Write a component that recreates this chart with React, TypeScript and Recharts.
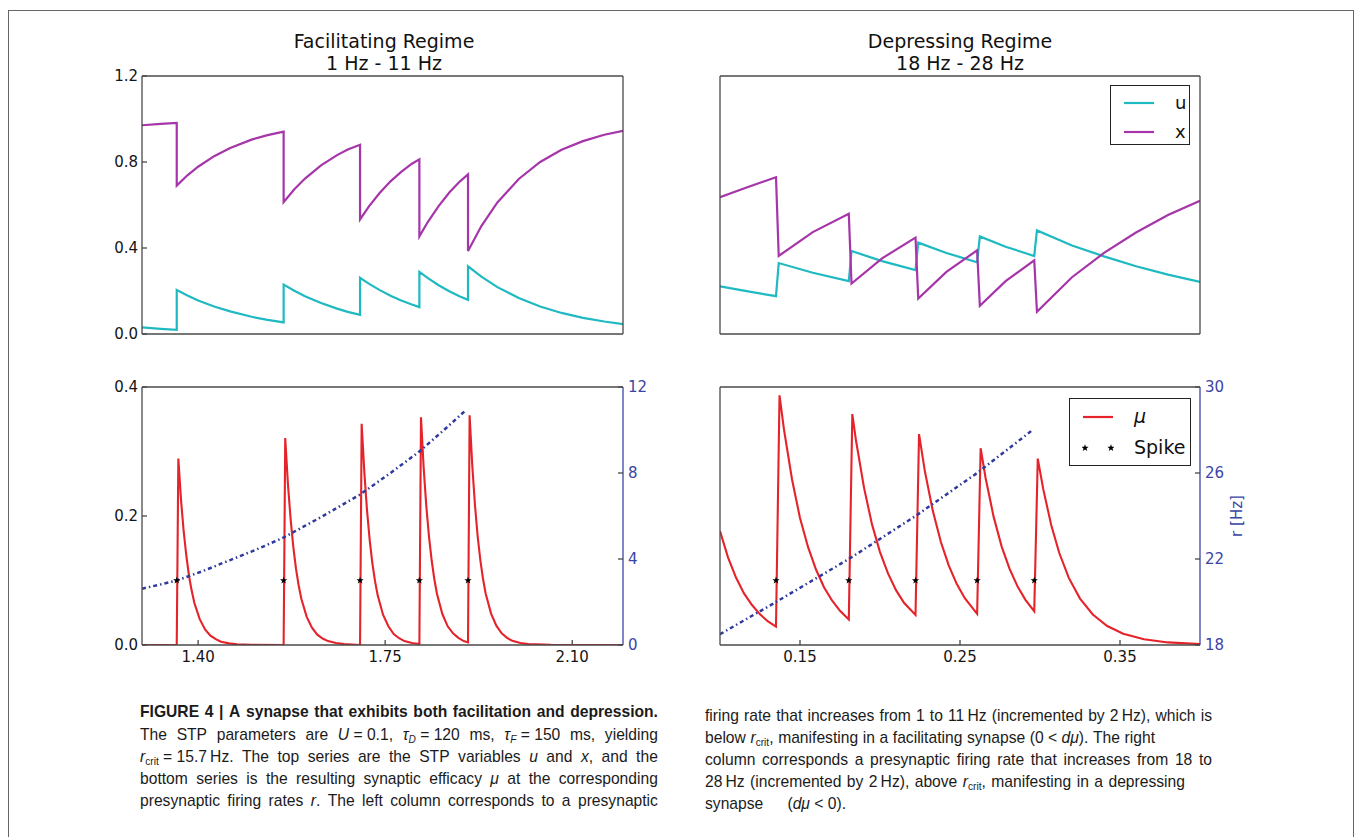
import React from 'react';
import { ComposedChart, Line, Scatter, XAxis, YAxis, Legend } from 'recharts';

type Pt = [number, number];

// ---------- Left column: facilitating regime (time in s) ----------
const facDomain: Pt = [1.295, 2.195];
const facTimeTicks = [1.4, 1.75, 2.1];
const facSpikeTimes = [1.36, 1.56, 1.703, 1.814, 1.905];
const facRateTicks = [0, 4, 8, 12];

const facX: Pt[] = [
  [1.295, 0.971], [1.33, 0.977], [1.36, 0.982], [1.36, 0.69], [1.38, 0.738], [1.4, 0.778], [1.43, 0.827],
  [1.46, 0.865], [1.5, 0.904], [1.53, 0.925], [1.56, 0.941], [1.56, 0.613], [1.58, 0.673], [1.6, 0.723],
  [1.63, 0.784], [1.66, 0.832], [1.68, 0.858], [1.703, 0.88], [1.703, 0.533], [1.72, 0.595], [1.74, 0.657],
  [1.76, 0.71], [1.78, 0.754], [1.8, 0.792], [1.814, 0.812], [1.814, 0.454], [1.83, 0.522], [1.85, 0.595],
  [1.87, 0.658], [1.89, 0.71], [1.905, 0.742], [1.905, 0.386], [1.93, 0.502], [1.96, 0.612], [2.0, 0.721],
  [2.04, 0.8], [2.08, 0.857], [2.12, 0.897], [2.16, 0.927], [2.195, 0.945],
];

const facU: Pt[] = [
  [1.295, 0.031], [1.33, 0.024], [1.36, 0.019], [1.36, 0.204], [1.38, 0.179], [1.4, 0.156], [1.43, 0.128],
  [1.46, 0.105], [1.5, 0.08], [1.53, 0.066], [1.56, 0.054], [1.56, 0.23], [1.58, 0.201], [1.6, 0.176],
  [1.63, 0.144], [1.66, 0.118], [1.68, 0.103], [1.703, 0.089], [1.703, 0.261], [1.72, 0.233], [1.74, 0.204],
  [1.76, 0.178], [1.78, 0.156], [1.8, 0.137], [1.814, 0.125], [1.814, 0.289], [1.83, 0.26], [1.85, 0.227],
  [1.87, 0.199], [1.89, 0.174], [1.905, 0.159], [1.905, 0.315], [1.93, 0.267], [1.96, 0.218], [2.0, 0.167],
  [2.04, 0.128], [2.08, 0.098], [2.12, 0.075], [2.16, 0.058], [2.195, 0.046],
];

const facMu: Pt[] = [
  [1.295, 0], [1.36, 0], [1.363, 0.289], [1.368, 0.225], [1.373, 0.176], [1.378, 0.138], [1.383, 0.107],
  [1.388, 0.084], [1.393, 0.065], [1.403, 0.04], [1.413, 0.024], [1.423, 0.0145], [1.433, 0.009],
  [1.443, 0.005], [1.458, 0.0025], [1.473, 0.001], [1.5, 0.0002], [1.56, 0],
  [1.563, 0.321], [1.568, 0.25], [1.573, 0.196], [1.578, 0.153], [1.583, 0.119], [1.588, 0.093],
  [1.593, 0.072], [1.603, 0.044], [1.613, 0.027], [1.623, 0.016], [1.633, 0.01], [1.643, 0.006],
  [1.658, 0.003], [1.673, 0.0013], [1.703, 0],
  [1.706, 0.343], [1.711, 0.268], [1.716, 0.209], [1.721, 0.163], [1.726, 0.127], [1.731, 0.099],
  [1.736, 0.077], [1.746, 0.047], [1.756, 0.029], [1.766, 0.017], [1.776, 0.0105], [1.786, 0.006],
  [1.8, 0.003], [1.814, 0.0015],
  [1.817, 0.353], [1.822, 0.275], [1.827, 0.215], [1.832, 0.168], [1.837, 0.131], [1.842, 0.102],
  [1.847, 0.079], [1.857, 0.048], [1.867, 0.029], [1.877, 0.018], [1.887, 0.011], [1.897, 0.006], [1.905, 0.004],
  [1.908, 0.356], [1.913, 0.278], [1.918, 0.217], [1.923, 0.169], [1.928, 0.132], [1.933, 0.103],
  [1.938, 0.08], [1.948, 0.049], [1.958, 0.03], [1.968, 0.018], [1.978, 0.011], [1.988, 0.0064],
  [2.003, 0.003], [2.018, 0.0014], [2.06, 0.0002], [2.195, 0],
];

const facRate: Pt[] = [
  [1.295, 2.62], [1.33, 2.82], [1.36, 3.0], [1.41, 3.45], [1.46, 3.95], [1.51, 4.45], [1.56, 5.0],
  [1.63, 5.95], [1.703, 7.0], [1.76, 8.0], [1.814, 9.0], [1.86, 10.0], [1.9, 10.9],
];

// ---------- Right column: depressing regime ----------
const depDomain: Pt = [0.1, 0.4];
const depTimeTicks = [0.15, 0.25, 0.35];
const depSpikeTimes = [0.135, 0.1805, 0.2222, 0.2607, 0.2964];
const depRateTicks = [18, 22, 26, 30];

const depX: Pt[] = [
  [0.1, 0.636], [0.1175, 0.684], [0.135, 0.729], [0.1367, 0.363], [0.158, 0.474], [0.1805, 0.559],
  [0.1822, 0.235], [0.2013, 0.352], [0.2222, 0.448], [0.2239, 0.165], [0.2415, 0.289], [0.2607, 0.389],
  [0.2624, 0.131], [0.2785, 0.246], [0.2964, 0.343], [0.2981, 0.103], [0.32, 0.264], [0.34, 0.377],
  [0.36, 0.472], [0.38, 0.553], [0.4, 0.62],
];

const depU: Pt[] = [
  [0.1, 0.222], [0.1175, 0.198], [0.135, 0.176], [0.1367, 0.33], [0.158, 0.285], [0.1805, 0.246],
  [0.1822, 0.386], [0.2013, 0.339], [0.2222, 0.297], [0.2239, 0.425], [0.2415, 0.377], [0.2607, 0.334],
  [0.2624, 0.454], [0.2785, 0.406], [0.2964, 0.363], [0.2981, 0.482], [0.32, 0.412], [0.34, 0.361],
  [0.36, 0.315], [0.38, 0.276], [0.4, 0.242],
];

const depMu: Pt[] = [
  [0.1, 0.1765], [0.105, 0.136], [0.11, 0.1045], [0.115, 0.08], [0.12, 0.062], [0.125, 0.0475], [0.13, 0.0365], [0.135, 0.0285],
  [0.1372, 0.387], [0.14, 0.334], [0.145, 0.257], [0.15, 0.197], [0.155, 0.152], [0.16, 0.117], [0.165, 0.0895], [0.17, 0.069], [0.175, 0.053], [0.1805, 0.0396],
  [0.1827, 0.358], [0.185, 0.317], [0.19, 0.244], [0.195, 0.187], [0.2, 0.144], [0.205, 0.111], [0.21, 0.085], [0.215, 0.0654], [0.2222, 0.0465],
  [0.2244, 0.327], [0.228, 0.27], [0.233, 0.208], [0.238, 0.16], [0.243, 0.123], [0.248, 0.0944], [0.253, 0.0726], [0.2607, 0.0484],
  [0.2629, 0.305], [0.266, 0.259], [0.271, 0.199], [0.276, 0.153], [0.281, 0.118], [0.286, 0.0905], [0.291, 0.0696], [0.2964, 0.0523],
  [0.2986, 0.289], [0.302, 0.242], [0.307, 0.186], [0.312, 0.143], [0.318, 0.104], [0.325, 0.072], [0.333, 0.0473],
  [0.342, 0.0294], [0.352, 0.0174], [0.365, 0.0088], [0.38, 0.004], [0.4, 0.0014],
];

const depRate: Pt[] = [
  [0.1, 18.5], [0.135, 20.0], [0.1805, 22.0], [0.2222, 24.0], [0.2607, 26.0], [0.2945, 27.95],
];

// ---------- shared ----------
const stpDomain: Pt = [0, 1.2];
const stpTicks = [0, 0.4, 0.8, 1.2];
const muDomain: Pt = [0, 0.4];
const muTicks = [0, 0.2, 0.4];
const spikeLevel = 0.1;

const toPts = (a: Pt[]) => a.map(([t, v]) => ({ t, v }));
const spikesPts = (times: number[]) => times.map((t) => ({ t, v: spikeLevel }));

const FONT = '"DejaVu Sans", Verdana, sans-serif';
const AX = '#4a4a4a';
const BLUE = '#3b45a6';
const CYAN = '#1fb9c1';
const MAGENTA = '#a535a9';
const RED = '#e5232a';
const RATE_BLUE = '#2f3a9c';

const tickFont = { fontSize: 15, fill: '#151515', fontFamily: FONT };
const blueTickFont = { fontSize: 15, fill: BLUE, fontFamily: FONT };
const axLine = { stroke: AX, strokeWidth: 1.3 };
const blueLine = { stroke: BLUE, strokeWidth: 1.3 };

function StarShape(props: any) {
  const { cx, cy } = props;
  if (cx == null || cy == null) return null;
  const r1 = 3.8;
  const r2 = 1.6;
  let d = '';
  for (let i = 0; i < 10; i++) {
    const r = i % 2 === 0 ? r1 : r2;
    const a = -Math.PI / 2 + (i * Math.PI) / 5;
    d += (i === 0 ? 'M' : 'L') + (cx + r * Math.cos(a)).toFixed(2) + ',' + (cy + r * Math.sin(a)).toFixed(2);
  }
  return <path d={d + 'Z'} fill="#000" />;
}

function BoxLegend(props: any) {
  const { payload, w, h, rowH, fontSize } = props;
  const items = (payload || [])
    .filter((p: any) => p.type !== 'none')
    .slice()
    .sort((a: any, b: any) => (a.type === 'star' ? 1 : 0) - (b.type === 'star' ? 1 : 0));
  return (
    <div
      style={{
        width: w,
        height: h,
        boxSizing: 'border-box',
        border: '1.5px solid #222',
        background: '#fff',
        paddingTop: 2,
        paddingLeft: 12,
        fontFamily: FONT,
      }}
    >
      {items.map((p: any) => (
        <div key={String(p.value)} style={{ display: 'flex', alignItems: 'center', height: rowH }}>
          <svg width={32} height={12} style={{ display: 'block' }}>
            {p.type === 'star' ? (
              <g>
                <StarShape cx={3} cy={6} />
                <StarShape cx={29} cy={6} />
              </g>
            ) : (
              <line x1={1} y1={6} x2={31} y2={6} stroke={p.color} strokeWidth={2.2} />
            )}
          </svg>
          <span
            style={{
              marginLeft: 20,
              fontSize,
              color: '#111',
              lineHeight: 1,
              fontStyle: p.value === 'μ' ? 'italic' : 'normal',
            }}
          >
            {p.value}
          </span>
        </div>
      ))}
    </div>
  );
}

const fmt1 = (v: number) => v.toFixed(1);
const fmt2 = (v: number) => v.toFixed(2);
const fmt0 = (v: number) => String(v);

function TopPanel(props: any) {
  const { left, plotW, domain, xTicks, u, x, showY, legend } = props;
  return (
    <div style={{ position: 'absolute', left: left - 50, top: 66 }}>
      <ComposedChart width={50 + plotW + 20} height={278} margin={{ top: 9, right: 10, bottom: 9, left: 0 }}>
        <XAxis xAxisId="b" type="number" dataKey="t" domain={domain} allowDataOverflow ticks={xTicks} tick={false}
          height={1} axisLine={axLine} tickLine={axLine} tickSize={-5} interval={0} />
        <XAxis xAxisId="t" orientation="top" type="number" domain={domain} allowDataOverflow ticks={xTicks} tick={false}
          height={1} axisLine={axLine} tickLine={axLine} tickSize={-5} interval={0} />
        <YAxis yAxisId="l" type="number" domain={stpDomain} allowDataOverflow ticks={stpTicks} width={50}
          tick={showY ? tickFont : false} tickFormatter={fmt1} axisLine={axLine} tickLine={axLine} tickSize={-5}
          tickMargin={9} interval={0} />
        <YAxis yAxisId="r" orientation="right" type="number" domain={stpDomain} allowDataOverflow ticks={stpTicks}
          width={10} tick={false} axisLine={axLine} tickLine={axLine} tickSize={-5} interval={0} />
        <Line xAxisId="b" yAxisId="l" data={toPts(u)} dataKey="v" name="u" type="linear" stroke={CYAN}
          strokeWidth={2.2} dot={false} activeDot={false} isAnimationActive={false} />
        <Line xAxisId="b" yAxisId="l" data={toPts(x)} dataKey="v" name="x" type="linear" stroke={MAGENTA}
          strokeWidth={2.2} dot={false} activeDot={false} isAnimationActive={false} />
        {legend ? (
          <Legend layout="vertical" align="center" verticalAlign="middle"
            wrapperStyle={{ left: 440, top: 19, width: 80, height: 60 }}
            content={(p: any) => <BoxLegend {...p} w={80} h={60} rowH={29} fontSize={18} />} />
        ) : null}
      </ComposedChart>
    </div>
  );
}

function BottomPanel(props: any) {
  const { left, plotW, domain, xTicks, mu, rate, spikes, rateDomain, rateTicks, showLeft, rightW, rateLabel, legend } = props;
  return (
    <div style={{ position: 'absolute', left: left - 50, top: 377 }}>
      <ComposedChart width={50 + plotW + rightW + 10} height={308} margin={{ top: 9, right: 10, bottom: 10, left: 0 }}>
        <XAxis xAxisId="b" type="number" dataKey="t" domain={domain} allowDataOverflow ticks={xTicks} tick={tickFont}
          tickFormatter={fmt2} height={30} axisLine={axLine} tickLine={axLine} tickSize={-5} tickMargin={11} interval={0} />
        <XAxis xAxisId="t" orientation="top" type="number" domain={domain} allowDataOverflow ticks={xTicks} tick={false}
          height={1} axisLine={axLine} tickLine={axLine} tickSize={-5} interval={0} />
        <YAxis yAxisId="l" type="number" domain={muDomain} allowDataOverflow ticks={muTicks} width={50}
          tick={showLeft ? tickFont : false} tickLine={showLeft ? axLine : false} tickFormatter={fmt1} axisLine={axLine}
          tickSize={-5} tickMargin={9} interval={0} />
        <YAxis yAxisId="r" orientation="right" type="number" domain={rateDomain} allowDataOverflow ticks={rateTicks}
          width={rightW} tick={blueTickFont} tickFormatter={fmt0} axisLine={blueLine} tickLine={axLine} tickSize={-5}
          tickMargin={10} interval={0}
          label={rateLabel ? { value: 'r  [Hz]', angle: -90, position: 'center', fill: BLUE, fontSize: 15, fontFamily: FONT } : undefined} />
        <Line xAxisId="b" yAxisId="l" data={toPts(mu)} dataKey="v" name="μ" type="linear" stroke={RED}
          strokeWidth={2.1} dot={false} activeDot={false} isAnimationActive={false} />
        <Line xAxisId="b" yAxisId="r" data={toPts(rate)} dataKey="v" name="r" legendType="none" type="linear"
          stroke={RATE_BLUE} strokeWidth={2.5} strokeDasharray="4 3 1.5 3" dot={false} activeDot={false}
          isAnimationActive={false} />
        <Scatter xAxisId="b" yAxisId="l" data={spikesPts(spikes)} dataKey="v" name="Spike" legendType="star"
          fill="#000" shape={(p: any) => <StarShape cx={p.cx} cy={p.cy} />} isAnimationActive={false} />
        {legend ? (
          <Legend layout="vertical" align="center" verticalAlign="middle"
            wrapperStyle={{ left: 399, top: 21, width: 122, height: 68 }}
            content={(p: any) => <BoxLegend {...p} w={122} h={68} rowH={31} fontSize={19} />} />
        ) : null}
      </ComposedChart>
    </div>
  );
}

const CAP_SCALE = 0.92;
const CAP_FONT = '"Liberation Sans", Arial, sans-serif';

function CapLine(props: any) {
  const { x, y, w, bold, words } = props;
  return (
    <div
      style={{
        position: 'absolute',
        left: x,
        top: y - 11,
        width: w / CAP_SCALE,
        height: 22,
        transform: `scaleX(${CAP_SCALE})`,
        transformOrigin: '0 0',
        display: 'flex',
        justifyContent: 'space-between',
        alignItems: 'baseline',
        fontFamily: CAP_FONT,
        fontSize: 17,
        lineHeight: '22px',
        fontWeight: bold ? 700 : 400,
        color: '#1b1b1b',
      }}
    >
      {words.map((wd: any, i: number) => (
        <span key={i} style={{ whiteSpace: 'pre' }}>
          {wd}
        </span>
      ))}
    </div>
  );
}

const subStyle: any = { fontSize: 11, verticalAlign: '-3px', lineHeight: 0 };
const Rcrit = () => (
  <>
    <i>r</i>
    <span style={subStyle}>crit</span>
  </>
);

const leftLines: any[] = [
  { y: 712, w: 518, bold: true, words: 'FIGURE 4 | A synapse that exhibits both facilitation and depression.'.split(' ') },
  {
    y: 734.5, w: 518, words: [
      'The', 'STP', 'parameters', 'are',
      <><i>U</i>{' = 0.1,'}</>,
      <><i>τ</i><span style={subStyle}><i>D</i></span>{' = 120'}</>, 'ms,',
      <><i>τ</i><span style={subStyle}><i>F</i></span>{' = 150'}</>, 'ms,', 'yielding',
    ],
  },
  {
    y: 757, w: 518, words: [
      <><Rcrit />{' = 15.7\u2009Hz.'}</>, 'The', 'top', 'series', 'are', 'the', 'STP', 'variables',
      <i>u</i>, 'and', <><i>x</i>,</>, 'and', 'the',
    ],
  },
  {
    y: 779, w: 518, words: [
      'bottom', 'series', 'is', 'the', 'resulting', 'synaptic', 'efficacy', <i>μ</i>, 'at', 'the', 'corresponding',
    ],
  },
  {
    y: 801, w: 518, words: [
      'presynaptic', 'firing', 'rates', <><i>r</i>.</>, 'The', 'left', 'column', 'corresponds', 'to', 'a', 'presynaptic',
    ],
  },
];

const rightLines: any[] = [
  {
    y: 716, w: 507, words: [
      'firing', 'rate', 'that', 'increases', 'from', '1', 'to', '11\u2009Hz', '(incremented', 'by', '2\u2009Hz),', 'which', 'is',
    ],
  },
  {
    y: 738, w: 450, words: [
      'below', <><Rcrit />,</>, 'manifesting', 'in', 'a', 'facilitating', 'synapse', <>(0 &lt; <i>dμ</i>).</>, 'The', 'right',
    ],
  },
  {
    y: 760, w: 507, words: 'column corresponds a presynaptic firing rate that increases from 18 to'.split(' '),
  },
  {
    y: 782, w: 480, words: [
      '28\u2009Hz', '(incremented', 'by', '2\u2009Hz),', 'above', <><Rcrit />,</>, 'manifesting', 'in', 'a', 'depressing',
    ],
  },
  { y: 804, w: 141, words: ['synapse', <>(<i>dμ</i> &lt; 0).</>] },
];

function Title(props: any) {
  const { cx, lines } = props;
  return (
    <div
      style={{
        position: 'absolute',
        left: cx - 200,
        top: 30,
        width: 400,
        textAlign: 'center',
        fontFamily: FONT,
        fontSize: 19,
        lineHeight: '22px',
        color: '#111',
      }}
    >
      {lines.map((l: string) => (
        <div key={l}>{l}</div>
      ))}
    </div>
  );
}

export default function App() {
  return (
    <div style={{ position: 'absolute', left: 0, top: 0, width: 1355, height: 837, overflow: 'hidden', background: '#fff' }}>
      <div
        style={{
          position: 'absolute',
          left: 8,
          top: 10,
          width: 1346,
          height: 827,
          boxSizing: 'border-box',
          borderLeft: '1.5px solid #666',
          borderTop: '1.5px solid #666',
          borderRight: '1.5px solid #666',
        }}
      />
      <Title cx={384} lines={['Facilitating Regime', '1 Hz - 11 Hz']} />
      <Title cx={960} lines={['Depressing Regime', '18 Hz - 28 Hz']} />

      <TopPanel left={142} plotW={481} domain={facDomain} xTicks={facTimeTicks} u={facU} x={facX} showY legend={false} />
      <TopPanel left={720} plotW={480} domain={depDomain} xTicks={depTimeTicks} u={depU} x={depX} showY={false} legend />

      <BottomPanel left={142} plotW={481} domain={facDomain} xTicks={facTimeTicks} mu={facMu} rate={facRate}
        spikes={facSpikeTimes} rateDomain={[0, 12]} rateTicks={facRateTicks} showLeft rightW={50} rateLabel={false}
        legend={false} />
      <BottomPanel left={720} plotW={480} domain={depDomain} xTicks={depTimeTicks} mu={depMu} rate={depRate}
        spikes={depSpikeTimes} rateDomain={[18, 30]} rateTicks={depRateTicks} showLeft={false} rightW={74} rateLabel
        legend />

      {leftLines.map((l, i) => (
        <CapLine key={'l' + i} x={140} y={l.y} w={l.w} bold={l.bold} words={l.words} />
      ))}
      {rightLines.map((l, i) => (
        <CapLine key={'r' + i} x={705} y={l.y} w={l.w} words={l.words} />
      ))}
    </div>
  );
}
